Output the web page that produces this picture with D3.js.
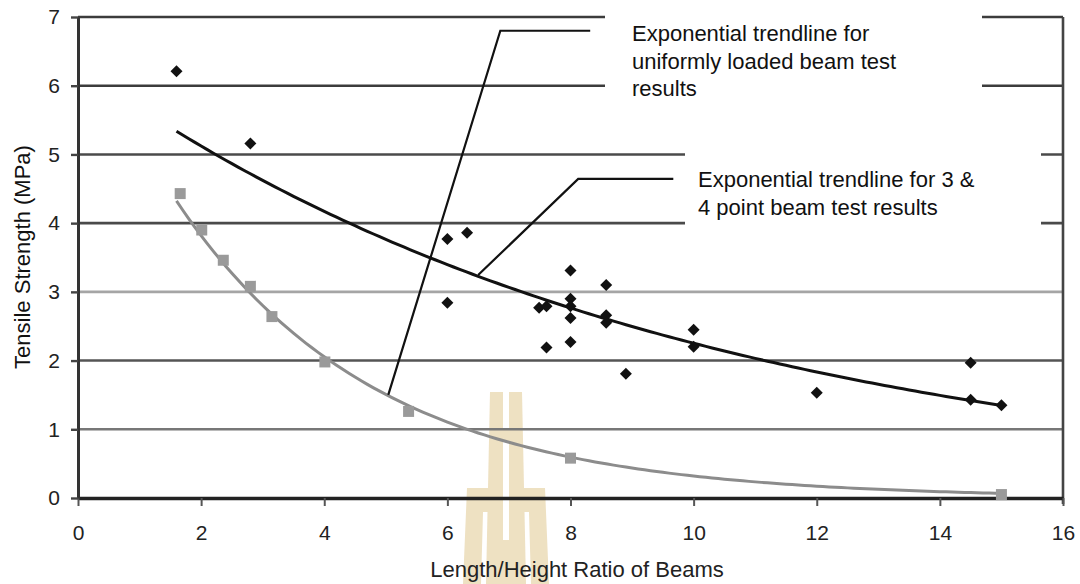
<!DOCTYPE html>
<html>
<head>
<meta charset="utf-8">
<script src="https://cdn.jsdelivr.net/npm/d3@7"></script>
<style>
  body { margin: 0; background: #fff; }
  svg { display: block; font-family: "Liberation Sans", Arial, sans-serif; }
</style>
</head>
<body>
<div id="chart"></div>
<script>
// 3 & 4 point beam tests (black diamonds)
const pointX = [1.6, 2.8, 6.0, 6.32, 6.0, 7.49, 7.61, 7.61, 8.0, 8.0, 8.0, 8.0, 8.0,
                8.58, 8.58, 8.58, 8.9, 10.0, 10.0, 12.0, 14.5, 14.5, 15.0];
const pointY = [6.21, 5.16, 3.77, 3.86, 2.84, 2.77, 2.79, 2.19, 3.31, 2.90, 2.79, 2.62, 2.27,
                3.10, 2.66, 2.55, 1.81, 2.45, 2.20, 1.53, 1.97, 1.43, 1.35];

// uniformly loaded beam tests (grey squares)
const uniformX = [1.66, 2.01, 2.36, 2.80, 3.15, 4.01, 5.37, 8.0, 15.0];
const uniformY = [4.43, 3.90, 3.46, 3.08, 2.64, 1.98, 1.26, 0.58, 0.05];

// exponential trendlines y = a * exp(b * x)
const trendPoint = [6.29, -0.1027];
const trendUniform = [7.1, -0.31];
const trendRange = [1.6, 15];

const xTicks = [0, 2, 4, 6, 8, 10, 12, 14, 16];
const yTicks = [0, 1, 2, 3, 4, 5, 6, 7];

// callout leaders, in data units
const calloutUniform = [[5.04, 1.50], [6.86, 6.80], [8.32, 6.80]];
const calloutPoint = [[6.50, 3.245], [8.125, 4.643], [9.67, 4.643]];

const labelUniform = ['Exponential trendline for', 'uniformly loaded beam test', 'results'];
const labelPoint = ['Exponential trendline for 3 &', '4 point beam test results'];

const margin = { top: 17, right: 17, bottom: 86, left: 78 };
const width = 1080 - margin.left - margin.right;
const height = 584 - margin.top - margin.bottom;

const svg = d3.select('#chart')
    .append('svg')
    .attr('width', 1080)
    .attr('height', 584);

// faint watermark behind the plot
const mark = svg.append('g').attr('fill', '#ecdcb8').attr('opacity', 0.85);
[
    [[490, 392], [503, 392], [503, 584], [486, 584]],
    [[509, 392], [522, 392], [526, 584], [509, 584]],
    [[503, 428], [509, 428], [509, 442], [503, 442]],
    [[503, 540], [509, 540], [509, 584], [503, 584]],
    [[467, 488], [490, 488], [490, 512], [483, 512], [481, 584], [463, 584]],
    [[522, 488], [545, 488], [549, 584], [531, 584], [529, 512], [522, 512]]
].forEach(p => mark.append('polygon').attr('points', p.join(' ')));

const g = svg.append('g')
    .attr('transform', `translate(${margin.left},${margin.top})`);

const x = d3.scaleLinear().domain([0, 16]).range([0, width]);
const y = d3.scaleLinear().domain([0, 7]).range([height, 0]);

// horizontal gridlines, the scan makes them uneven
const gridColor = { 1: '#777', 2: '#555', 3: '#a5a5a5', 4: '#4a4a4a', 5: '#4a4a4a', 6: '#3c3c3c', 7: '#3c3c3c' };
g.append('g')
    .selectAll('line')
    .data(yTicks.filter(d => d > 0))
    .enter()
    .append('line')
    .attr('x1', 0)
    .attr('x2', width)
    .attr('y1', d => y(d))
    .attr('y2', d => y(d))
    .attr('stroke', d => gridColor[d])
    .attr('stroke-width', 2.6);

// right border
g.append('line')
    .attr('x1', width).attr('x2', width)
    .attr('y1', 0).attr('y2', height + 6)
    .attr('stroke', '#444')
    .attr('stroke-width', 2.6);

// x axis
const xAxis = g.append('g')
    .attr('transform', `translate(0,${height})`)
    .call(d3.axisBottom(x).tickValues(xTicks).tickSize(8).tickPadding(19).tickSizeOuter(0));
xAxis.select('.domain').attr('stroke', '#222').attr('stroke-width', 3.4);
xAxis.selectAll('.tick line').attr('stroke', '#555').attr('stroke-width', 2);
xAxis.selectAll('.tick text')
    .style('font-size', '21px')
    .attr('fill', '#222');

// y axis
const yAxis = g.append('g')
    .call(d3.axisLeft(y).tickValues(yTicks).tickFormat(d3.format('d'))
        .tickSize(7).tickPadding(11).tickSizeOuter(0));
yAxis.select('.domain').attr('stroke', '#333').attr('stroke-width', 3);
yAxis.selectAll('.tick line').attr('stroke', '#444').attr('stroke-width', 2.4);
yAxis.selectAll('.tick text')
    .style('font-size', '21px')
    .attr('fill', '#222');

// axis titles
g.append('text')
    .attr('x', 499)
    .attr('y', height + 79)
    .attr('text-anchor', 'middle')
    .style('font-size', '22px')
    .attr('fill', '#222')
    .text('Length/Height Ratio of Beams');

g.append('text')
    .attr('transform', 'rotate(-90)')
    .attr('x', -240)
    .attr('y', -48)
    .attr('text-anchor', 'middle')
    .style('font-size', '22px')
    .attr('fill', '#111')
    .text('Tensile Strength (MPa)');

// trendlines
const trendData = coef => d3.range(trendRange[0], trendRange[1] + 0.001, 0.1)
    .map(v => [v, coef[0] * Math.exp(coef[1] * v)]);

const line = d3.line()
    .x(d => x(d[0]))
    .y(d => y(d[1]));

g.append('path')
    .datum(trendData(trendUniform))
    .attr('fill', 'none')
    .attr('stroke', '#8c8c8c')
    .attr('stroke-width', 3)
    .attr('d', line);

g.append('path')
    .datum(trendData(trendPoint))
    .attr('fill', 'none')
    .attr('stroke', '#111')
    .attr('stroke-width', 3)
    .attr('d', line);

// markers
g.selectAll('.sq')
    .data(uniformX.map((v, i) => [v, uniformY[i]]))
    .enter()
    .append('path')
    .attr('class', 'sq')
    .attr('transform', d => `translate(${x(d[0])},${y(d[1])})`)
    .attr('d', d3.symbol(d3.symbolSquare, 121))
    .attr('fill', '#9a9a9a');

g.selectAll('.dia')
    .data(pointX.map((v, i) => [v, pointY[i]]))
    .enter()
    .append('path')
    .attr('class', 'dia')
    .attr('transform', d => `translate(${x(d[0])},${y(d[1])}) rotate(45)`)
    .attr('d', d3.symbol(d3.symbolSquare, 72))
    .attr('fill', '#111');

// callout leaders
[calloutUniform, calloutPoint].forEach(c => {
    g.append('path')
        .datum(c)
        .attr('fill', 'none')
        .attr('stroke', '#111')
        .attr('stroke-width', 2.2)
        .attr('d', line);
});

// text boxes mask the gridlines behind them
const boxes = [
    { x0: 605, x1: 982, y0: 0, y1: 112, left: 632, base: 41, lines: labelUniform },
    { x0: 685, x1: 1041, y0: 140, y1: 245, left: 698, base: 187, lines: labelPoint }
];
boxes.forEach(b => {
    svg.append('rect')
        .attr('x', b.x0)
        .attr('y', b.y0)
        .attr('width', b.x1 - b.x0)
        .attr('height', b.y1 - b.y0)
        .attr('fill', '#fff');
    svg.append('g')
        .selectAll('text')
        .data(b.lines)
        .enter()
        .append('text')
        .attr('x', b.left)
        .attr('y', (d, i) => b.base + i * 27.5)
        .style('font-size', '22px')
        .attr('fill', '#111')
        .text(d => d);
});
</script>
</body>
</html>
